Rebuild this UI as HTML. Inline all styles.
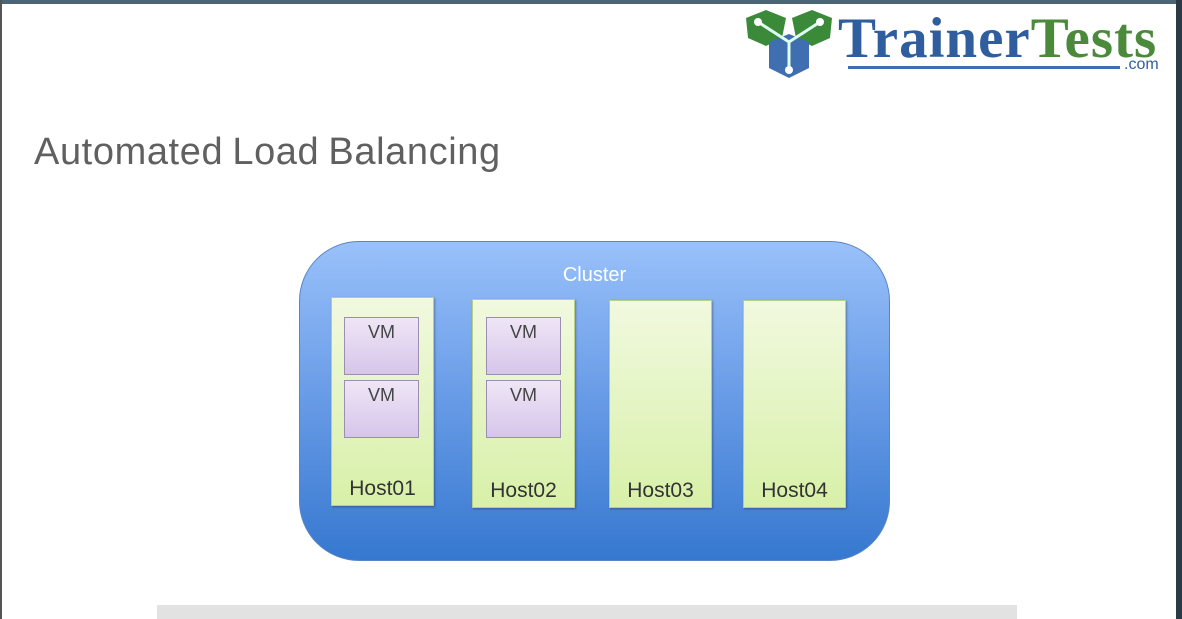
<!DOCTYPE html>
<html><head><style>
body{margin:0;width:1182px;height:619px;background:#fff;position:relative;overflow:hidden;font-family:"Liberation Sans","DejaVu Sans",sans-serif}
.a{position:absolute}
.host{position:absolute;background:linear-gradient(#f1f9df,#d8f0a8);border:1px solid #b7cf86;box-shadow:1px 1px 2px rgba(0,0,0,.3);box-sizing:border-box}
.host span{position:absolute;bottom:4px;left:0;right:0;text-align:center;font-size:21px;color:#333}
.vm{position:absolute;left:12px;width:75px;height:58px;background:linear-gradient(#efe6f6,#d6c5ea);border:1px solid #9a8fb0;box-sizing:border-box;text-align:center;font-size:18px;color:#444;padding-top:4px}
</style></head><body>
<div class="a" style="left:0;top:0;width:1182px;height:4px;background:#4a6576"></div>
<div class="a" style="left:1176px;top:0;width:6px;height:619px;background:#2b3b45"></div>
<div class="a" style="left:0;top:0;width:2px;height:619px;background:#555"></div>
<svg class="a" style="left:744px;top:8px" width="90" height="72" viewBox="0 0 90 72">
<polygon points="2,10 22,2 42,10 38,30 22,38 4,30" fill="#3b8a3a"/>
<polygon points="48,10 68,2 88,10 86,30 68,38 52,30" fill="#3b8a3a"/>
<polygon points="25,34 45,26 65,34 65,60 45,70 25,60" fill="#3f6fb0"/>
<path d="M14,14 L45,34 L76,14 M45,34 L45,62" stroke="#dfe" stroke-width="3" fill="none"/>
<circle cx="14" cy="14" r="4" fill="#fff"/><circle cx="76" cy="14" r="4" fill="#fff"/><circle cx="45" cy="62" r="4" fill="#fff"/>
</svg>
<div class="a" style="left:838px;top:12px;font-family:'Liberation Serif',serif;font-size:57px;font-weight:bold;line-height:54px;color:#2f5d9e;letter-spacing:1px">Trainer<span style="color:#4a8a3a">Tests</span></div>
<div class="a" style="left:848px;top:66px;width:272px;height:3px;background:#3d6fb0"></div>
<div class="a" style="left:1124px;top:56px;font-size:16px;color:#2f5d9e">.com</div>
<div class="a" style="left:34px;top:131px;font-size:38px;color:#606060;letter-spacing:0.6px;word-spacing:-2px">Automated Load Balancing</div>
<div class="a" style="left:299px;top:241px;width:591px;height:320px;border-radius:60px;background:linear-gradient(#99c1fa,#6c9ee8 45%,#3678d0);border:1px solid #5a85c2;box-sizing:border-box"></div>
<div class="a" style="left:299px;top:264px;width:591px;text-align:center;font-size:20px;color:#fff">Cluster</div>
<div class="host" style="left:331px;top:297px;width:103px;height:209px"><div class="vm" style="top:19px">VM</div><div class="vm" style="top:82px">VM</div><span>Host01</span></div>
<div class="host" style="left:472px;top:299px;width:103px;height:209px"><div class="vm" style="top:17px;left:13px">VM</div><div class="vm" style="top:80px;left:13px">VM</div><span>Host02</span></div>
<div class="host" style="left:609px;top:300px;width:103px;height:208px"><span>Host03</span></div>
<div class="host" style="left:743px;top:300px;width:103px;height:208px"><span>Host04</span></div>
<div class="a" style="left:157px;top:605px;width:860px;height:14px;background:#e2e2e2"></div>
</body></html>
